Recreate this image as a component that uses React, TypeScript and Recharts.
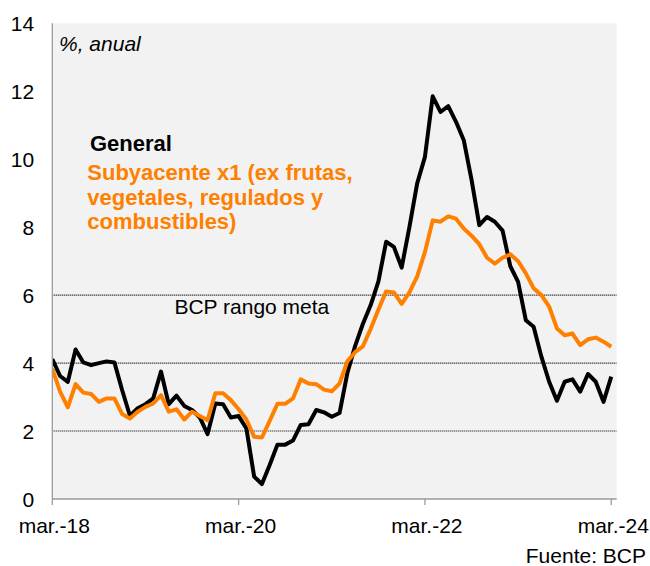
import React, { useLayoutEffect } from 'react';
import { LineChart, Line, XAxis, YAxis, CartesianGrid, ReferenceLine } from 'recharts';

const months = [
  'mar-18', 'abr-18', 'may-18', 'jun-18', 'jul-18', 'ago-18', 'sep-18', 'oct-18', 'nov-18', 'dic-18',
  'ene-19', 'feb-19', 'mar-19', 'abr-19', 'may-19', 'jun-19', 'jul-19', 'ago-19', 'sep-19', 'oct-19', 'nov-19', 'dic-19',
  'ene-20', 'feb-20', 'mar-20', 'abr-20', 'may-20', 'jun-20', 'jul-20', 'ago-20', 'sep-20', 'oct-20', 'nov-20', 'dic-20',
  'ene-21', 'feb-21', 'mar-21', 'abr-21', 'may-21', 'jun-21', 'jul-21', 'ago-21', 'sep-21', 'oct-21', 'nov-21', 'dic-21',
  'ene-22', 'feb-22', 'mar-22', 'abr-22', 'may-22', 'jun-22', 'jul-22', 'ago-22', 'sep-22', 'oct-22', 'nov-22', 'dic-22',
  'ene-23', 'feb-23', 'mar-23', 'abr-23', 'may-23', 'jun-23', 'jul-23', 'ago-23', 'sep-23', 'oct-23', 'nov-23', 'dic-23',
  'ene-24', 'feb-24', 'mar-24',
];

const general = [
  4.12, 3.62, 3.45, 4.4, 4.02, 3.94, 4.0, 4.05, 4.02, 3.2,
  2.45, 2.67, 2.79, 2.96, 3.75, 2.79, 3.04, 2.74, 2.62, 2.4, 1.91, 2.81,
  2.79, 2.4, 2.44, 2.08, 0.66, 0.44, 1.0, 1.6, 1.6, 1.72, 2.18, 2.2,
  2.62, 2.55, 2.42, 2.53, 3.7, 4.5, 5.15, 5.7, 6.4, 7.57, 7.42, 6.81,
  8.0, 9.29, 10.07, 11.85, 11.39, 11.56, 11.1, 10.56, 9.4, 8.06, 8.3, 8.16,
  7.9, 6.85, 6.39, 5.26, 5.07, 4.19, 3.45, 2.89, 3.45, 3.52, 3.16, 3.68,
  3.45, 2.86, 3.6,
];

const subyacente = [
  3.84, 3.16, 2.7, 3.38, 3.13, 3.09, 2.86, 2.96, 2.96, 2.5,
  2.37, 2.57, 2.71, 2.81, 3.06, 2.57, 2.64, 2.34, 2.57, 2.44, 2.32, 3.11,
  3.11, 2.91, 2.64, 2.34, 1.83, 1.81, 2.3, 2.8, 2.8, 2.96, 3.52, 3.4,
  3.38, 3.22, 3.17, 3.4, 4.05, 4.32, 4.49, 5.0, 5.57, 6.11, 6.08, 5.74,
  6.08, 6.55, 7.27, 8.2, 8.16, 8.32, 8.25, 7.96, 7.75, 7.5, 7.1, 6.93,
  7.1, 7.2, 7.0, 6.64, 6.2, 6.0, 5.66, 5.02, 4.82, 4.87, 4.53, 4.7,
  4.75, 4.63, 4.48,
];

const yTicks = [0, 2, 4, 6, 8, 10, 12, 14];
const xTickIndex = [0, 24, 48, 72];
const xTickLabels = ['mar.-18', 'mar.-20', 'mar.-22', 'mar.-24'];
const targetLines = [2, 4, 6];

const data = months.map((m, i) => ({ i, month: m, general: general[i], subyacente: subyacente[i] }));

const FONT = '"Liberation Sans", Arial, Helvetica, sans-serif';
const W = 650;
const H = 566;
const ORANGE = '#ff8000';
const AXIS = '#9a9a9a';

function XTick(props: any) {
  const { x, y, payload } = props;
  const k = xTickIndex.indexOf(payload.value);
  return (
    <text x={x + 2} y={y + 26} textAnchor="middle" fontFamily={FONT} fontSize={21} fill="#000">
      {xTickLabels[k]}
    </text>
  );
}

function YTick(props: any) {
  const { x, y, payload } = props;
  return (
    <text x={x - 18.1} y={y + 7.5} textAnchor="end" fontFamily={FONT} fontSize={21} fill="#000">
      {payload.value}
    </text>
  );
}

export default function App() {
  useLayoutEffect(() => {
    document.body.style.margin = '0';
  }, []);
  return (
    <div style={{ position: 'relative', width: W, height: H, overflow: 'hidden', background: '#fff' }}>
      <LineChart
        width={W}
        height={H}
        data={data}
        margin={{ top: 23.3, right: 33.3, bottom: 27, left: 0 }}
      >
        <CartesianGrid fill="#f2f2f2" fillOpacity={1} horizontal={false} vertical={false} />
        {targetLines.map((v) => (
          <ReferenceLine key={v} y={v} stroke="#000" strokeWidth={1.1} strokeDasharray="1 1" />
        ))}
        <XAxis
          type="number"
          dataKey="i"
          domain={[0, 72.7]}
          ticks={xTickIndex}
          interval={0}
          allowDataOverflow
          height={40}
          tickSize={6}
          tickMargin={2}
          axisLine={{ stroke: AXIS, strokeWidth: 1.3 }}
          tickLine={{ stroke: AXIS, strokeWidth: 1.3 }}
          tick={XTick}
        />
        <YAxis
          type="number"
          domain={[0, 14]}
          ticks={yTicks}
          interval={0}
          width={52.3}
          tickSize={0}
          tickMargin={0}
          tickLine={false}
          axisLine={{ stroke: AXIS, strokeWidth: 1.3 }}
          tick={YTick}
        />
        <Line
          type="linear"
          dataKey="general"
          stroke="#000"
          strokeWidth={4}
          strokeLinejoin="round"
          dot={false}
          activeDot={false}
          isAnimationActive={false}
        />
        <Line
          type="linear"
          dataKey="subyacente"
          stroke={ORANGE}
          strokeWidth={4}
          strokeLinejoin="round"
          dot={false}
          activeDot={false}
          isAnimationActive={false}
        />
      </LineChart>
      <svg
        width={W}
        height={H}
        style={{ position: 'absolute', left: 0, top: 0, pointerEvents: 'none' }}
      >
        <text x={59} y={50.5} fontFamily={FONT} fontSize={21} fontStyle="italic" fill="#000">
          %, anual
        </text>
        <text x={90} y={150.5} fontFamily={FONT} fontSize={22} fontWeight="bold" fill="#000">
          General
        </text>
        <text x={87.3} y={180} fontFamily={FONT} fontSize={22} fontWeight="bold" fill={ORANGE}>
          Subyacente x1 (ex frutas,
        </text>
        <text x={87.3} y={204.5} fontFamily={FONT} fontSize={22} fontWeight="bold" fill={ORANGE}>
          vegetales, regulados y
        </text>
        <text x={87.3} y={229} fontFamily={FONT} fontSize={22} fontWeight="bold" fill={ORANGE}>
          combustibles)
        </text>
        <text x={174.4} y={314} fontFamily={FONT} fontSize={21} fill="#000">
          BCP rango meta
        </text>
        <text x={646} y={563} textAnchor="end" fontFamily={FONT} fontSize={21} fill="#000">
          Fuente: BCP
        </text>
      </svg>
    </div>
  );
}
